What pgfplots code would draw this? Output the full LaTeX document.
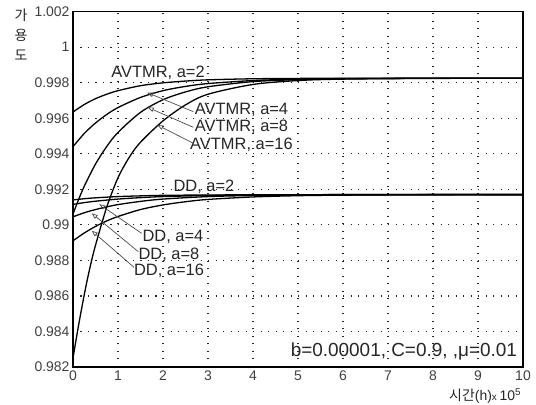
\documentclass[border=0pt]{standalone}
\usepackage{fontspec}
\setmainfont{Liberation Sans}
\newfontfamily\cjk{Noto Sans CJK KR}
\usepackage{pgfplots}
\pgfplotsset{compat=1.18}
\usetikzlibrary{arrows.meta}

\tikzset{crv/.style={draw=black, line width=1.3bp, smooth, mark=none}}

\begin{document}
\begin{tikzpicture}
\useasboundingbox (-73bp,-38bp) rectangle (463bp,367bp);
\begin{axis}[
    at={(0,0)}, anchor=south west,
    scale only axis, width=450bp, height=355.4bp,
    xmin=0, xmax=10, ymin=0.982, ymax=1.002,
    xtick={0,1,2,3,4,5,6,7,8,9,10},
    xticklabels={0,1,2,3,4,5,6,7,8,9,10},
    ytick={0.982,0.984,0.986,0.988,0.99,0.992,0.994,0.996,0.998,1,1.002},
    yticklabels={0.982,0.984,0.986,0.988,0.99,0.992,0.994,0.996,0.998,1,1.002},
    grid=major,
    major grid style={black!85, line width=1.2bp, dash pattern=on 1.2bp off 6.3bp},
    axis line style={black, line width=1.6bp},
    tick style={draw=none},
    ticklabel style={font=\fontsize{14}{17}\selectfont, text=black!75},
    clip=false,
]
% AVTMR, a=2
\addplot[crv] coordinates {
    (0,0.99635) (0.25,0.99677) (0.5,0.99710) (0.75,0.99735) (1,0.99755)
    (1.5,0.99783) (2,0.99799) (2.5,0.99809) (3,0.99816) (4,0.99822)
    (5,0.99824) (6,0.99825) (8,0.99825) (10,0.99825)
};
% AVTMR, a=4
\addplot[crv] coordinates {
    (0,0.99440) (0.25,0.99514) (0.5,0.99573) (0.75,0.99621) (1,0.99660)
    (1.5,0.99717) (2,0.99755) (2.5,0.99779) (3,0.99795) (4,0.99812)
    (5,0.99820) (6,0.99823) (8,0.99825) (10,0.99825)
};
% AVTMR, a=8
\addplot[crv] coordinates {
    (0,0.99060) (0.1,0.99127) (0.25,0.99217) (0.5,0.99342) (0.75,0.99441)
    (1,0.99520) (1.5,0.99633) (2,0.99704) (2.5,0.99748) (3,0.99777)
    (4,0.99806) (5,0.99817) (6,0.99822) (8,0.99825) (10,0.99825)
};
% AVTMR, a=16
\addplot[crv] coordinates {
    (0,0.98250) (0.1,0.98400) (0.2,0.98540) (0.3,0.98670) (0.4,0.98785)
    (0.5,0.98885) (0.75,0.99100) (1,0.99265) (1.25,0.99380) (1.5,0.99465)
    (2,0.99585) (2.5,0.99675) (3,0.99735) (4,0.99790) (5,0.99812)
    (6,0.99820) (8,0.99824) (10,0.99825)
};
% DD, a=2
\addplot[crv] coordinates {
    (0,0.99140) (0.25,0.99147) (0.5,0.99152) (1,0.99159) (1.5,0.99163)
    (2,0.99166) (3,0.99168) (4,0.99169) (6,0.99170) (10,0.99170)
};
% DD, a=4
\addplot[crv] coordinates {
    (0,0.99115) (0.25,0.99125) (0.5,0.99133) (1,0.99145) (1.5,0.99153)
    (2,0.99159) (3,0.99165) (4,0.99168) (5,0.99169) (6,0.99170) (10,0.99170)
};
% DD, a=8
\addplot[crv] coordinates {
    (0,0.99045) (0.25,0.99068) (0.5,0.99086) (0.75,0.99101) (1,0.99114)
    (1.5,0.99132) (2,0.99145) (3,0.99159) (4,0.99165) (5,0.99168)
    (6,0.99169) (8,0.99170) (10,0.99170)
};
% DD, a=16
\addplot[crv] coordinates {
    (0,0.98910) (0.25,0.98954) (0.5,0.98991) (0.75,0.99022) (1,0.99047)
    (1.5,0.99086) (2,0.99112) (2.5,0.99130) (3,0.99143) (4,0.99157)
    (5,0.99164) (6,0.99167) (8,0.99170) (10,0.99170)
};

% labels
\tikzset{lab/.style={font=\fontsize{16.5}{18}\selectfont, text=black!85, inner sep=0pt},
         arr/.style={draw=black!70, line width=0.7bp, -{Triangle[open, length=6bp, width=4.5bp]}}}
\node[lab] at (1.89,0.99855) {AVTMR, a=2};
\node[lab] at (3.744,0.99646) {AVTMR, a=4};
\node[lab] at (3.744,0.99552) {AVTMR, a=8};
\node[lab] at (3.744,0.99453) {AVTMR, a=16};
\draw[arr] (2.673,0.99637) -- (1.651,0.99744);
\draw[arr] (2.673,0.99549) -- (1.660,0.99661);
\draw[arr] (2.673,0.99459) -- (1.873,0.99562);

\node[lab] at (2.911,0.99213) {DD, a=2};
\node[lab] at (2.222,0.98930) {DD, a=4};
\node[lab] at (2.133,0.98830) {DD, a=8};
\node[lab] at (2.133,0.98742) {DD, a=16};
\draw[arr] (1.527,0.98952) -- (0.584,0.99116);
\draw[arr] (1.451,0.98849) -- (0.416,0.99065);
\draw[arr] (1.356,0.98761) -- (0.416,0.98967);

\node[font=\fontsize{19}{21}\selectfont, text=black!85, anchor=east, inner sep=0pt]
    at (9.87,0.98285) {b=0.00001, C=0.9, ,μ=0.01};

% axis titles
\node[font=\cjk\fontsize{14}{20}\selectfont, align=center, text=black!85, inner sep=0pt]
    at (-1.156,1.00068) {가\\용\\도};
\node[anchor=west, inner sep=0pt, text=black!85] at (8.356,0.98035)
    {{\cjk\fontsize{14}{16}\selectfont 시간}{\fontsize{14}{16}\selectfont(h)}{\fontsize{10}{12}\selectfont x }{\fontsize{14}{16}\selectfont 10\textsuperscript{5}}};
\end{axis}
\end{tikzpicture}
\end{document}
